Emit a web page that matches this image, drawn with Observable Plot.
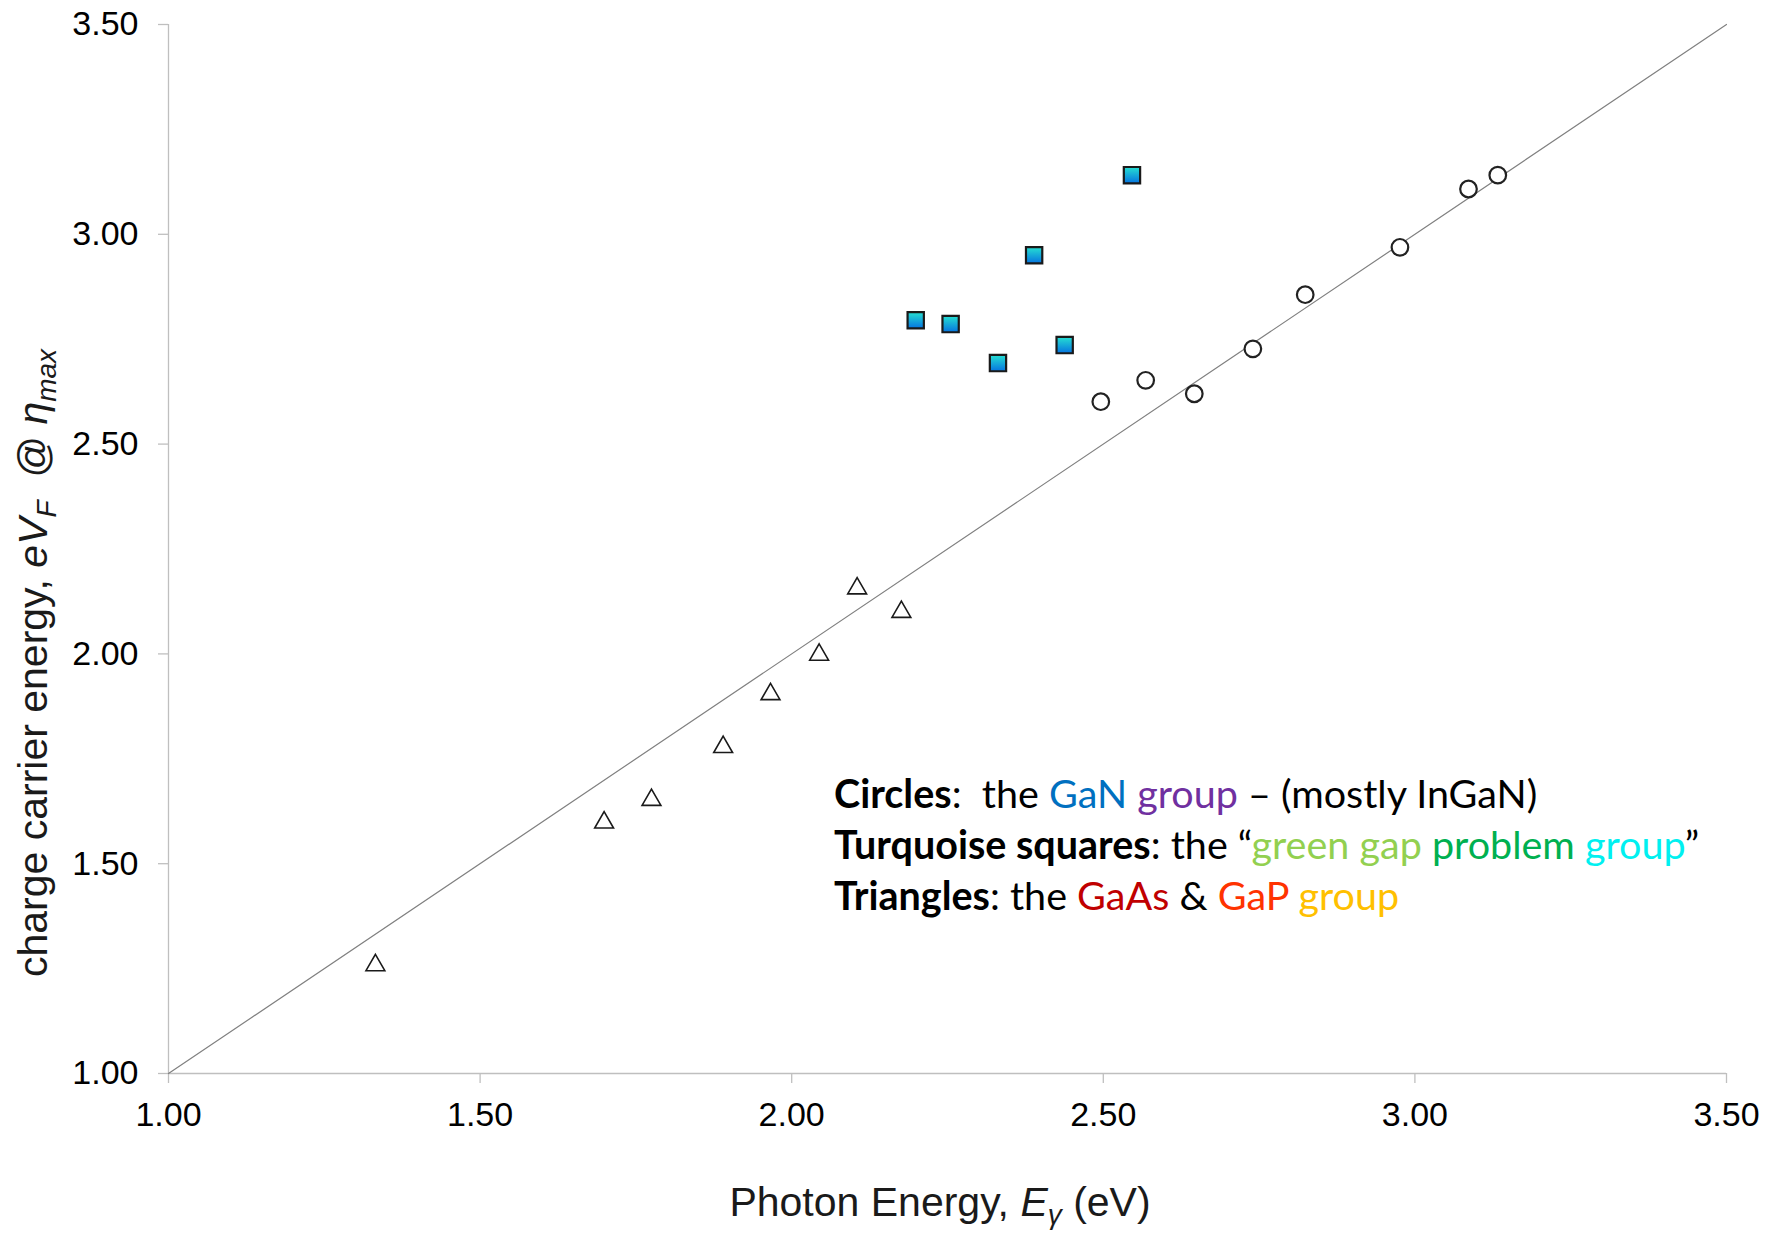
<!DOCTYPE html>
<html>
<head>
<meta charset="utf-8">
<script src="https://cdn.jsdelivr.net/npm/d3@7"></script>
<script src="https://cdn.jsdelivr.net/npm/@observablehq/plot@0.6"></script>
<style>
  html, body { margin: 0; padding: 0; background: white; }
  #wrap { position: relative; width: 1765px; height: 1236px; }
  #legend { position: absolute; left: 834px; top: 767px; font-family: Lato, "Open Sans", sans-serif; font-size: 39.5px; line-height: 51px; white-space: pre; color: #000; }
  #legend b { font-weight: 700; }
</style>
</head>
<body>
<div id="wrap"><div id="legend"></div></div>
<script>
// Triangles: GaAs & GaP group
const triX = [1.332, 1.699, 1.775, 1.890, 1.966, 2.044, 2.105, 2.176];
const triY = [1.258, 1.598, 1.652, 1.778, 1.904, 1.998, 2.156, 2.100];
// Circles: GaN group
const cirX = [2.496, 2.568, 2.646, 2.740, 2.824, 2.976, 3.086, 3.133];
const cirY = [2.601, 2.652, 2.620, 2.727, 2.856, 2.969, 3.108, 3.141];
// Turquoise squares: green gap problem group
const sqX = [2.199, 2.255, 2.331, 2.389, 2.438, 2.546];
const sqY = [2.795, 2.786, 2.693, 2.950, 2.736, 3.141];
// Ticks and reference line (y = x)
const xTicks = [1.0, 1.5, 2.0, 2.5, 3.0, 3.5];
const yTicks = [1.0, 1.5, 2.0, 2.5, 3.0, 3.5];
const identityLine = [1.0, 3.5];

const zip = (xs, ys) => xs.map((x, i) => ({x, y: ys[i]}));
const tri = zip(triX, triY), cir = zip(cirX, cirY), sq = zip(sqX, sqY);

const axisGray = "#bfbfbf";
const plot = Plot.plot({
  width: 1765,
  height: 1236,
  marginLeft: 168,
  marginRight: 39,
  marginTop: 24,
  marginBottom: 163,
  style: {fontFamily: "'Liberation Sans', Arial, sans-serif", background: "white"},
  x: {domain: [1, 3.5], label: null},
  y: {domain: [1, 3.5], label: null},
  marks: [
    Plot.ruleX([1], {stroke: axisGray, strokeWidth: 1.3}),
    Plot.ruleY([1], {stroke: axisGray, strokeWidth: 1.3}),
    Plot.axisX({ticks: xTicks, tickFormat: d3.format(".2f"), tickSize: 10, tickPadding: 18, fontSize: 34, stroke: axisGray, fill: "black", strokeWidth: 1.3, label: null}),
    Plot.axisY({ticks: yTicks, tickFormat: d3.format(".2f"), tickSize: 10, tickPadding: 20, fontSize: 34, stroke: axisGray, fill: "black", strokeWidth: 1.3, label: null}),
    Plot.line(identityLine, {x: d => d, y: d => d, stroke: "#808080", strokeWidth: 1.2}),
    Plot.dot(tri, {x: "x", y: "y", symbol: "triangle", r: 7, stroke: "#1a1a1a", strokeWidth: 1.6, fill: "white"}),
    Plot.dot(cir, {x: "x", y: "y", symbol: "circle", r: 8.3, stroke: "#222", strokeWidth: 2.2, fill: "white"}),
    Plot.dot(sq, {x: "x", y: "y", symbol: "square", r: 9.2, stroke: "#1a1a1a", strokeWidth: 2.2, fill: "url(#sqgrad)"})
  ]
});

const svg = d3.select(plot);
const grad = svg.insert("defs", ":first-child").append("linearGradient")
  .attr("id", "sqgrad").attr("x1", 0).attr("y1", 0).attr("x2", 0).attr("y2", 1);
grad.append("stop").attr("offset", "0%").attr("stop-color", "#26e0d2");
grad.append("stop").attr("offset", "100%").attr("stop-color", "#0573e0");

// X axis label
const xl = svg.append("text")
  .attr("x", 940).attr("y", 1216)
  .attr("text-anchor", "middle")
  .attr("font-family", "'Liberation Sans', Arial, sans-serif")
  .attr("font-size", 41).attr("fill", "#1a1a1a");
xl.append("tspan").text("Photon Energy, ");
xl.append("tspan").attr("font-style", "italic").text("E");
xl.append("tspan").attr("font-style", "italic").attr("font-size", 28).attr("dy", 8).text("γ");
xl.append("tspan").attr("dy", -8).text(" (eV)");

// Y axis label
const yl = svg.append("text")
  .attr("transform", "translate(47,663) rotate(-90)")
  .attr("text-anchor", "middle")
  .attr("font-family", "'Liberation Sans', Arial, sans-serif")
  .attr("font-size", 41).attr("fill", "#1a1a1a");
yl.append("tspan").text("charge carrier energy, ");
yl.append("tspan").attr("font-style", "italic").text("eV");
yl.append("tspan").attr("font-style", "italic").attr("font-size", 28).attr("dy", 9).text("F");
yl.append("tspan").attr("dy", -9).text("  @ ");
yl.append("tspan").attr("font-style", "italic").text("η");
yl.append("tspan").attr("font-style", "italic").attr("font-size", 28).attr("dy", 9).text("max");

document.getElementById("wrap").prepend(plot);

// Legend
const legendLines = [
  [["Circles", "#000", true], [":  the ", "#000"], ["GaN", "#0070C0"], [" ", "#000"], ["group", "#7030A0"], [" – (mostly InGaN)", "#000"]],
  [["Turquoise squares", "#000", true], [": the “", "#000"], ["green gap", "#92D050"], [" ", "#000"], ["problem", "#00B050"], [" ", "#000"], ["group", "#00F0F0"], ["”", "#000"]],
  [["Triangles", "#000", true], [": the ", "#000"], ["GaAs", "#C00000"], [" & ", "#000"], ["GaP", "#FF3300"], [" ", "#000"], ["group", "#FFC000"]]
];
const legend = d3.select("#legend");
legendLines.forEach(line => {
  const div = legend.append("div");
  line.forEach(([t, c, bold]) => {
    div.append(bold ? "b" : "span").style("color", c).text(t);
  });
});
</script>
</body>
</html>
